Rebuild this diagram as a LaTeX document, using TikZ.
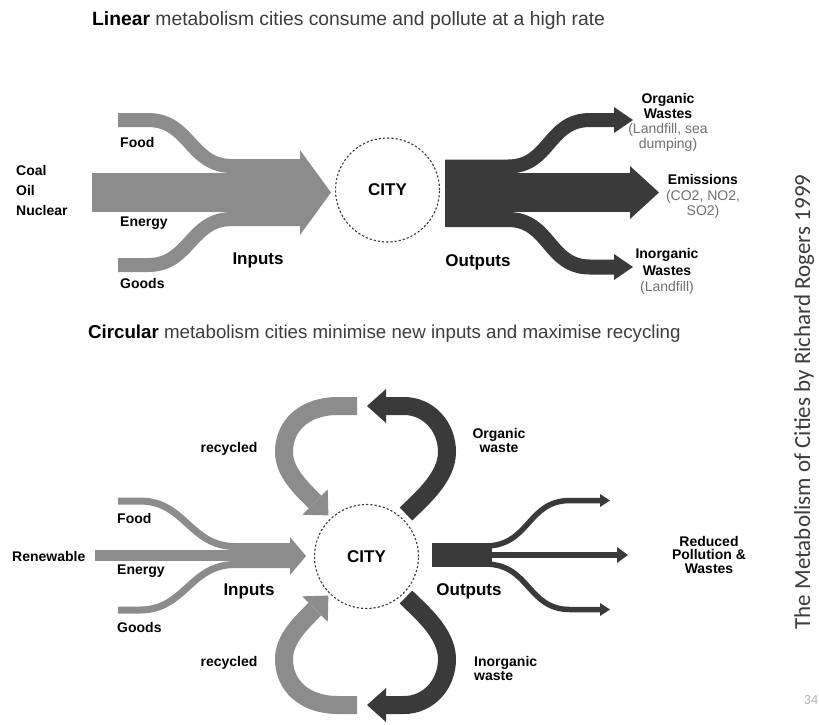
\documentclass[tikz,border=0pt]{standalone}
\usepackage{fontspec}
\setmainfont{Liberation Sans}
\newfontfamily\creditfont{Carlito}
\definecolor{inflow}{HTML}{8C8C8C}
\definecolor{outflow}{HTML}{3A3A3A}
\definecolor{notegray}{HTML}{707070}
\definecolor{headgray}{HTML}{3C3C3C}

\begin{document}
\begin{tikzpicture}[x=1pt, y=-1pt]
        % Band and label style definitions
        \tikzset{
            inband/.style={inflow, line cap=butt},
            outband/.style={outflow, line cap=butt},
            lbl/.style={font=\bfseries\fontsize{14}{15}\selectfont, inner sep=0pt},
            big/.style={font=\bfseries\fontsize{17}{18}\selectfont, inner sep=0pt},
            heading/.style={text=headgray, anchor=base west, inner sep=0pt},
            city/.style={circle, draw=outflow, line width=1.1pt, dash pattern=on 2.2pt off 2pt,
                         minimum size=104pt, font=\bfseries\fontsize{17}{18}\selectfont}
        }
        \useasboundingbox (0,0) rectangle (819,724);
        \fill[white] (0,0) rectangle (819,724);

        % ==========================================
        % LINEAR METABOLISM (top)
        % ==========================================
        \node[heading, font=\fontsize{19.3}{20}\selectfont] (linear) at (92,25) {{\color{black}\bfseries Linear} metabolism cities consume and pollute at a high rate};

        % Inputs: food, energy, goods merging into one arrow
        \draw[inband, line width=14pt] (118,120) -- (148,120) .. controls (190,120) and (190,166) .. (232,166) -- (301,166);
        \draw[inband, line width=39pt] (92,192.5) -- (301,192.5);
        \draw[inband, line width=14pt] (118,265) -- (148,265) .. controls (190,265) and (190,219) .. (232,219) -- (301,219);
        \fill[inflow] (300,150) -- (331,192.5) -- (300,235) -- cycle;

        \node[city] (city1) at (387.5,190) {CITY};

        % Outputs: organic wastes, emissions, inorganic wastes
        \draw[outband, line width=14pt] (445,166.5) -- (508,166.5) .. controls (550,166.5) and (548,120) .. (590,120) -- (615,120);
        \draw[outband, line width=39pt] (445,192.5) -- (631,192.5);
        \draw[outband, line width=15pt] (445,219.5) -- (508,219.5) .. controls (550,219.5) and (548,267) .. (590,267) -- (615,267);
        \fill[outflow] (614,107) -- (633,120) -- (614,133) -- cycle;
        \fill[outflow] (630,166) -- (659,192.5) -- (630,219) -- cycle;
        \fill[outflow] (614,254) -- (633,267) -- (614,280) -- cycle;

        \node[lbl, align=left, anchor=west, font=\bfseries\fontsize{14}{20}\selectfont] (fossil) at (16,190) {Coal\\Oil\\Nuclear};
        \node[lbl, anchor=west] (food1) at (120,142) {Food};
        \node[lbl, anchor=west] (energy1) at (120,223) {Energy};
        \node[lbl, anchor=west] (goods1) at (120,283) {Goods};
        \node[big] (inputs1) at (258,260) {Inputs};
        \node[big] (outputs1) at (478,262) {Outputs};
        \node[lbl, align=center] (organic1) at (668,122.5) {Organic\\Wastes\\{\mdseries\color{notegray}(Landfill, sea}\\{\mdseries\color{notegray}dumping)}};
        \node[lbl, align=center, font=\bfseries\fontsize{14}{15.5}\selectfont] (emissions) at (703,196.5) {Emissions\\{\mdseries\color{notegray}(CO2, NO2,}\\{\mdseries\color{notegray}SO2)}};
        \node[lbl, align=center, font=\bfseries\fontsize{14}{16.5}\selectfont] (inorganic1) at (667,271.5) {Inorganic\\Wastes\\{\mdseries\color{notegray}(Landfill)}};

        % ==========================================
        % CIRCULAR METABOLISM (bottom)
        % ==========================================
        \node[heading, font=\fontsize{18.7}{20}\selectfont] (circular) at (88,338) {{\color{black}\bfseries Circular} metabolism cities minimise new inputs and maximise recycling};

        % Inputs: thinner bands
        \draw[inband, line width=7pt] (118,501) -- (140,501) .. controls (185,501) and (190,546.5) .. (235,546.5) -- (291,546.5);
        \draw[inband, line width=11pt] (95,555.5) -- (291,555.5);
        \draw[inband, line width=7pt] (118,610) -- (140,610) .. controls (185,610) and (190,564.5) .. (235,564.5) -- (291,564.5);
        \fill[inflow] (290,537) -- (306,556) -- (290,575) -- cycle;

        \node[city] (city2) at (366.5,556.5) {CITY};

        % Recycling loops, upper half
        \draw[inband, line width=18pt] (357,406) -- (338,406) .. controls (305,406) and (284,425) .. (284,452) .. controls (284,472) and (301,488) .. (315,502);
        \fill[inflow] (327.7,489.3) -- (328.4,515.4) -- (302.3,514.7) -- cycle;
        \draw[outband, line width=18pt] (406,514) .. controls (420,500) and (447,478) .. (447,452) .. controls (447,426) and (428,406) .. (404,406) -- (386,406);
        \fill[outflow] (386,389) -- (367,406) -- (386,423) -- cycle;

        % Recycling loops, lower half
        \draw[inband, line width=18pt] (357,705) -- (338,705) .. controls (305,705) and (284,686) .. (284,659) .. controls (284,639) and (301,623) .. (315,609);
        \fill[inflow] (327.7,621.7) -- (328.4,595.6) -- (302.3,596.3) -- cycle;
        \draw[outband, line width=18pt] (406,597) .. controls (420,611) and (447,633) .. (447,659) .. controls (447,685) and (428,705) .. (404,705) -- (386,705);
        \fill[outflow] (386,688) -- (367,705) -- (386,722) -- cycle;

        % Reduced outputs
        \draw[outband, line width=24pt] (432,555) -- (492,555);
        \draw[outband, line width=5.5pt] (485,546) .. controls (530,546) and (527,500.5) .. (570,500.5) -- (601,500.5);
        \draw[outband, line width=6pt] (485,555) -- (618,555);
        \draw[outband, line width=5.5pt] (485,564) .. controls (530,564) and (527,609.5) .. (570,609.5) -- (601,609.5);
        \fill[outflow] (600,494) -- (610,500.5) -- (600,507) -- cycle;
        \fill[outflow] (617,547) -- (628,555) -- (617,563) -- cycle;
        \fill[outflow] (600,603) -- (610,609.5) -- (600,616) -- cycle;

        \node[lbl, anchor=west] (renewable) at (12,556) {Renewable};
        \node[lbl, anchor=west] (food2) at (117,518) {Food};
        \node[lbl, anchor=west] (energy2) at (117,571) {Energy};
        \node[lbl, anchor=west] (goods2) at (117,627) {Goods};
        \node[big] (inputs2) at (249,591) {Inputs};
        \node[big] (outputs2) at (469,591) {Outputs};
        \node[lbl] (recycled1) at (229,449) {recycled};
        \node[lbl] (recycled2) at (229,663) {recycled};
        \node[lbl, align=center, font=\bfseries\fontsize{14}{14}\selectfont] (organic2) at (499,440) {Organic\\waste};
        \node[lbl, align=left, anchor=west, font=\bfseries\fontsize{14}{14}\selectfont] (inorganic2) at (474,668) {Inorganic\\waste};
        \node[lbl, align=center, font=\bfseries\fontsize{14}{13.5}\selectfont] (reduced) at (709,554.5) {Reduced\\Pollution \&\\Wastes};

        % Credit and page number
        \node[rotate=90, anchor=base, inner sep=0pt, text=headgray, font=\creditfont\fontsize{23}{24}\selectfont] (credit) at (810,402) {The Metabolism of Cities by Richard Rogers 1999};
        \node[inner sep=0pt, text=black!30, font=\creditfont\fontsize{14}{15}\selectfont] (pageno) at (811,700) {34};
\end{tikzpicture}
\end{document}
